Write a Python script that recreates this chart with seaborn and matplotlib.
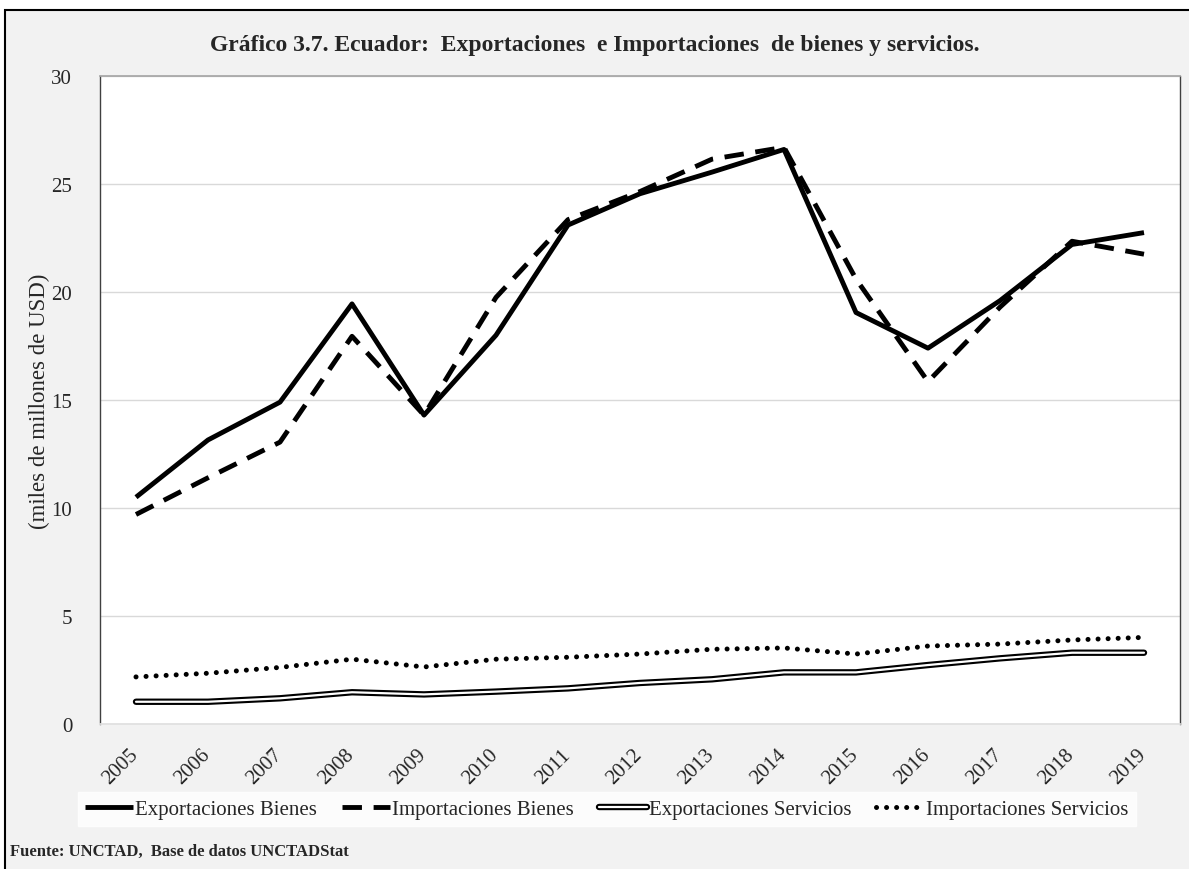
import pandas as pd
import seaborn as sns
import matplotlib.pyplot as plt
import matplotlib.patheffects as pe
import matplotlib.transforms as mtrans
from matplotlib.patches import Rectangle

# Valores (miles de millones de USD)
years = [2005, 2006, 2007, 2008, 2009, 2010, 2011, 2012, 2013, 2014, 2015, 2016, 2017, 2018, 2019]
exp_bienes = [10.5, 13.15, 14.9, 19.45, 14.3, 18.0, 23.1, 24.55, 25.55, 26.6, 19.05, 17.4, 19.6, 22.2, 22.75]
imp_bienes = [9.7, 11.4, 13.05, 17.95, 14.3, 19.75, 23.35, 24.65, 26.15, 26.7, 20.6, 15.85, 19.3, 22.35, 21.75]
exp_servicios = [1.03, 1.03, 1.19, 1.47, 1.37, 1.5, 1.65, 1.9, 2.07, 2.39, 2.39, 2.73, 3.04, 3.3, 3.3]
imp_servicios = [2.18, 2.35, 2.62, 3.0, 2.64, 3.0, 3.09, 3.24, 3.46, 3.52, 3.24, 3.61, 3.7, 3.89, 4.01]
labels = ["Exportaciones Bienes", "Importaciones Bienes", "Exportaciones Servicios", "Importaciones Servicios"]

df = pd.DataFrame({"year": years, labels[0]: exp_bienes, labels[1]: imp_bienes,
                   labels[2]: exp_servicios, labels[3]: imp_servicios})

sns.set_theme(style="white")
plt.rcParams['font.family'] = ['Liberation Serif', 'DejaVu Serif']

fig = plt.figure(figsize=(11.89, 8.7), dpi=100, facecolor="white")
# marco gris del grafico
fig.patches.append(Rectangle((5 / 1189, -0.02), 1.02, 859 / 870 + 0.02, transform=fig.transFigure,
                             facecolor="#f2f2f2", edgecolor="black", linewidth=1.5, zorder=-10))
ax = fig.add_axes([100 / 1189, 1 - 725 / 870, 1080 / 1189, 648 / 870])
ax.set_facecolor("white")

sns.lineplot(data=df, x="year", y=labels[0], ax=ax, color="black", linewidth=3.5,
             solid_capstyle="butt", label=labels[0])
sns.lineplot(data=df, x="year", y=labels[1], ax=ax, color="black", linewidth=3.5,
             dashes=False, linestyle=(0, (4, 2.4)), label=labels[1])
sns.lineplot(data=df, x="year", y=labels[2], ax=ax, color="white", linewidth=1.6,
             path_effects=[pe.Stroke(linewidth=4.6, foreground="black"), pe.Normal()], label=labels[2])
sns.lineplot(data=df, x="year", y=labels[3], ax=ax, color="black", linewidth=3.6,
             linestyle=(0, (0.01, 2.0)), dash_capstyle="round", label=labels[3])

ax.set_xlim(2004.5, 2019.5)
ax.set_ylim(0, 30)
ax.set_yticks(range(0, 31, 5))
ax.set_xticks(years)
ax.tick_params(axis="x", pad=15, length=0)
ax.tick_params(axis="y", pad=20, length=0, labelsize=15)
ax.set_xticklabels([str(y) for y in years], rotation=45, ha="right", fontsize=15)
# desplazar etiquetas rotadas un poco a la derecha (como en Excel)
shift = mtrans.ScaledTranslation(6 / 100, 0, fig.dpi_scale_trans)
for lab in ax.get_xticklabels():
    lab.set_transform(lab.get_transform() + shift)
ax.grid(axis="y", color="#d9d9d9", linewidth=1)
ax.set_xlabel("")
ax.set_ylabel("(miles de millones de USD)", fontsize=16.5)
ax.yaxis.set_label_coords(-50 / 1080, 0.5)
for side in ["left", "right"]:
    ax.spines[side].set_color("#404040")
    ax.spines[side].set_linewidth(1)
ax.spines["top"].set_color("#a6a6a6")
ax.spines["bottom"].set_color("#e0e0e0")

fig.text(0.5, 1 - 45 / 870, "Gráfico 3.7. Ecuador:  Exportaciones  e Importaciones  de bienes y servicios.",
         ha="center", va="center", fontsize=17, fontweight="bold")
fig.text(10 / 1189, 1 - 852 / 870, "Fuente: UNCTAD,  Base de datos UNCTADStat",
         ha="left", va="center", fontsize=12, fontweight="bold")

leg = ax.legend(loc="center", bbox_to_anchor=(607 / 1189, 1 - 810 / 870), bbox_transform=fig.transFigure,
                ncol=4, frameon=True, fancybox=False, fontsize=15, handlelength=2.3, handletextpad=0.1,
                columnspacing=1.2, borderpad=0.35)
leg.get_frame().set_facecolor("white")
leg.get_frame().set_edgecolor("white")

fig.savefig("out.png", dpi=100, facecolor=fig.get_facecolor())
